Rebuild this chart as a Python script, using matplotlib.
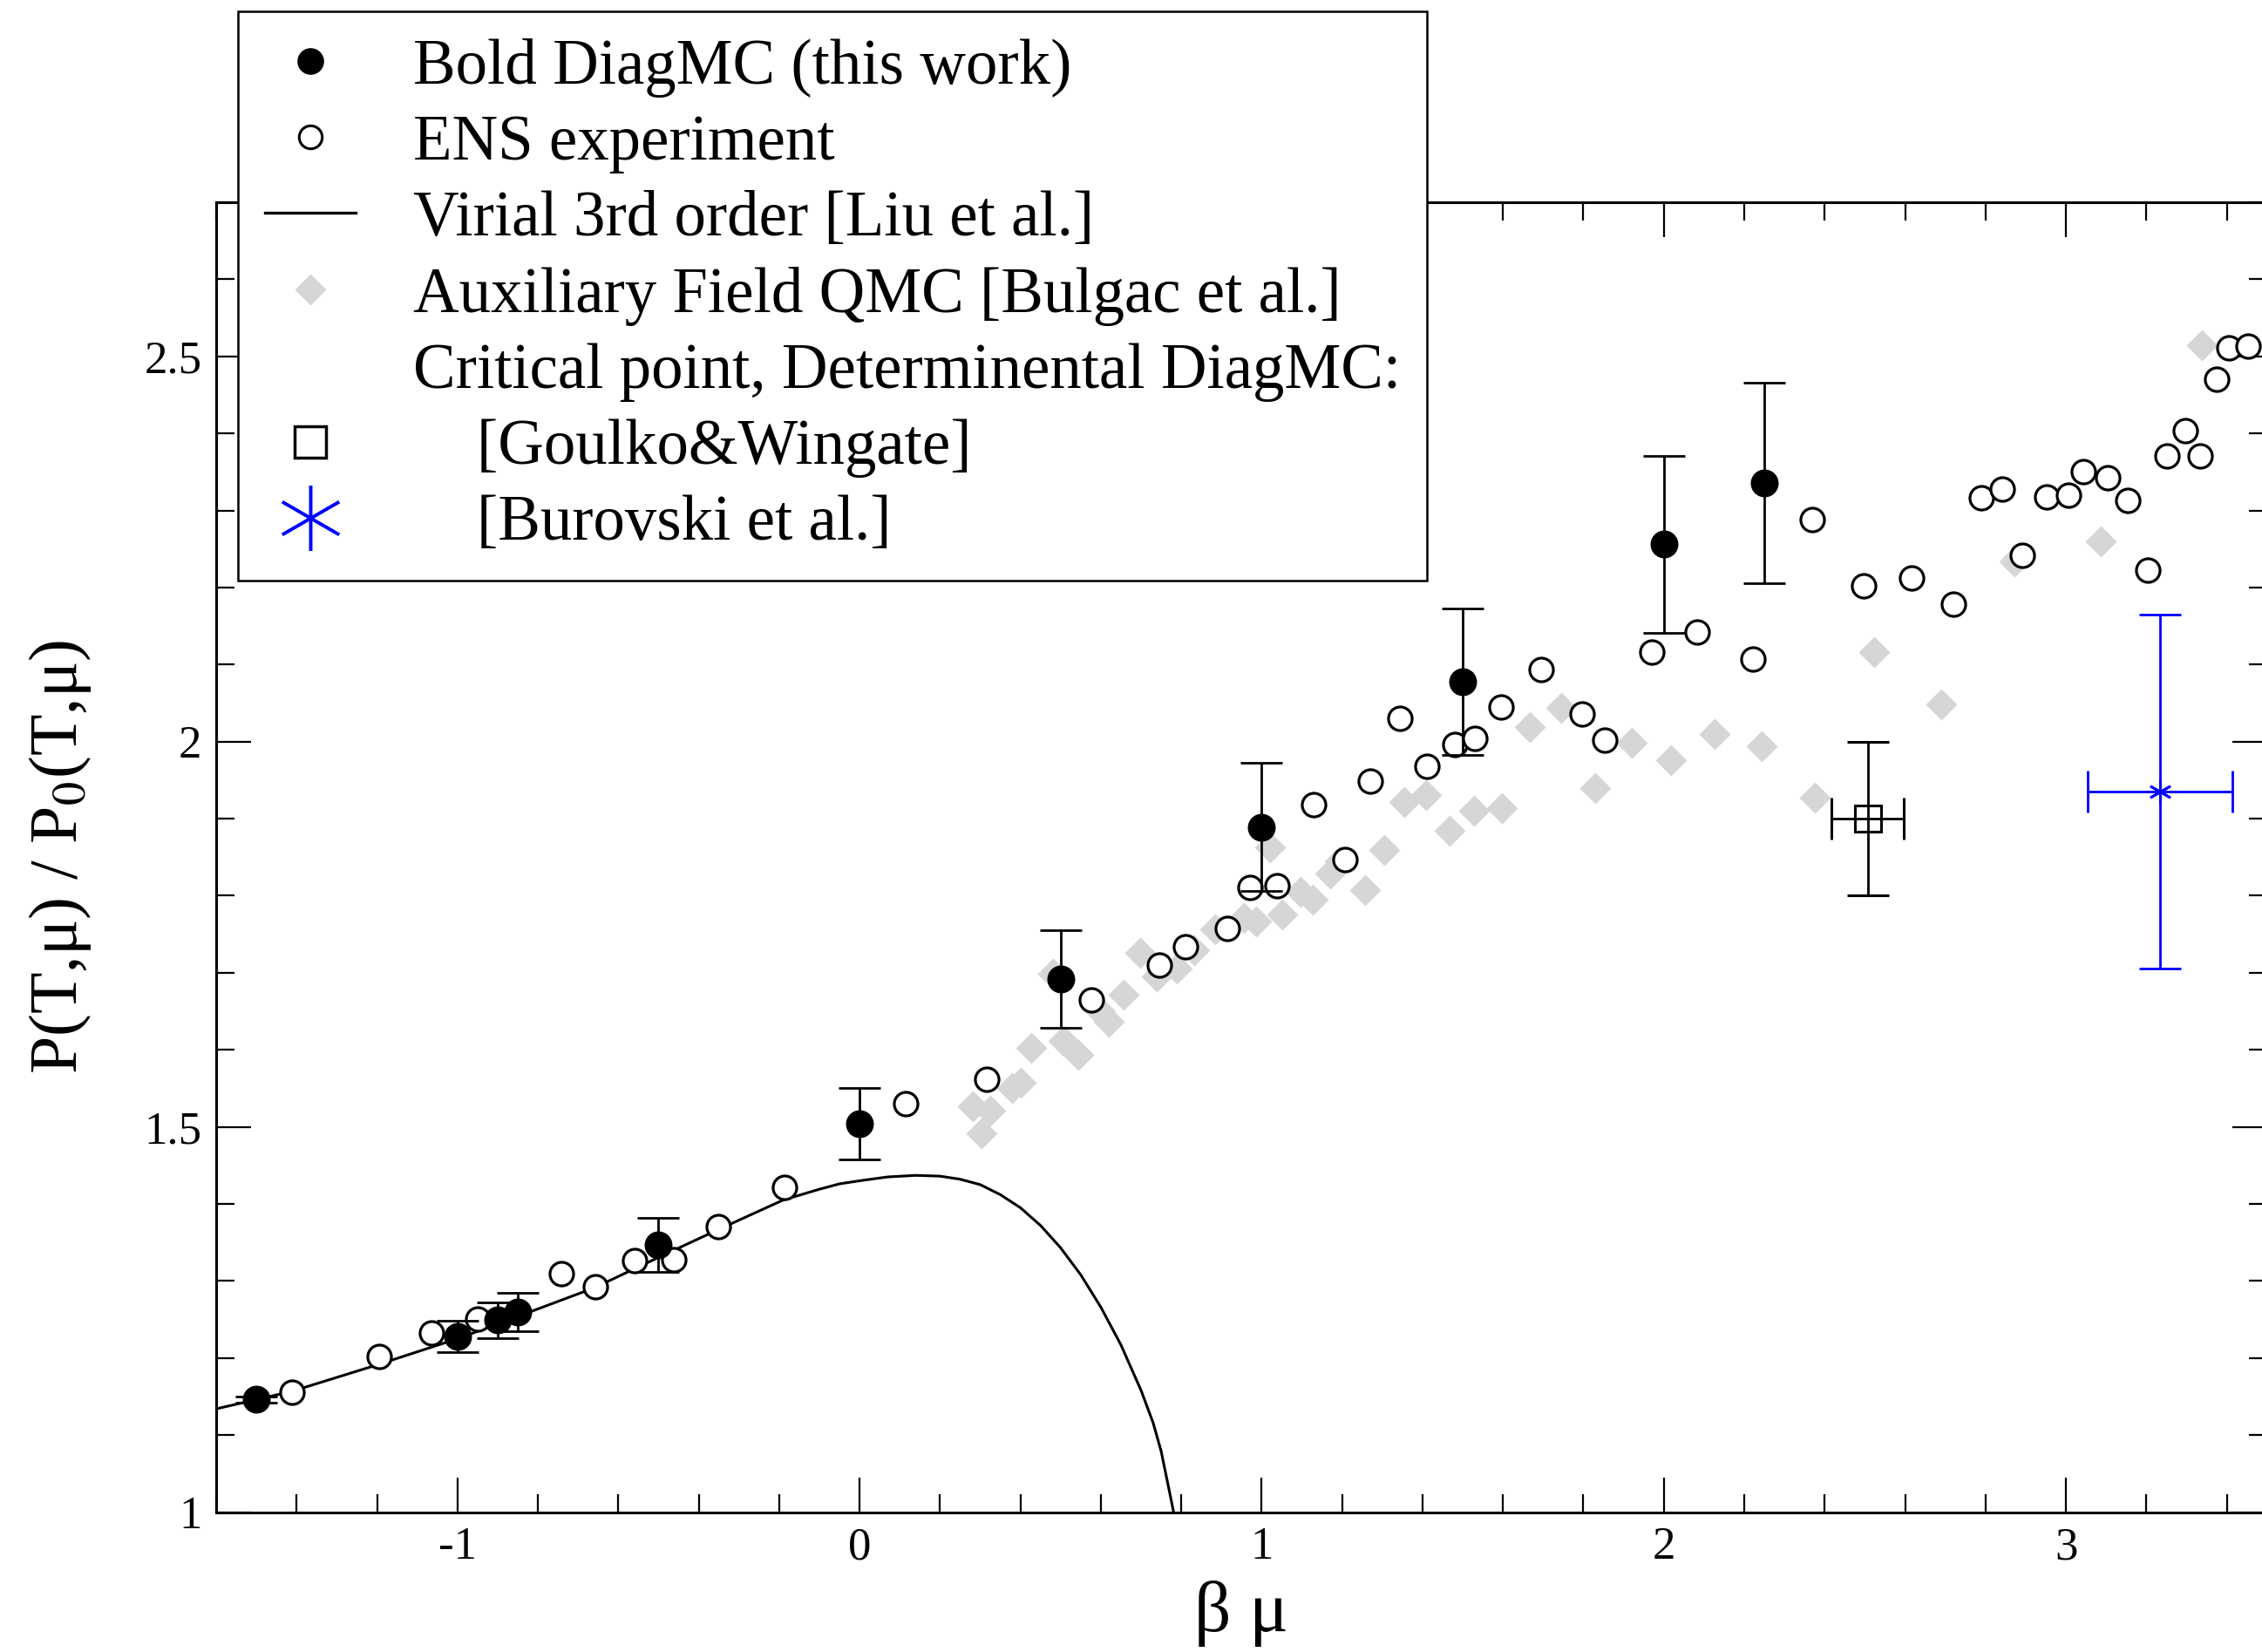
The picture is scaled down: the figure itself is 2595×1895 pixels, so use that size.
import numpy as np
import matplotlib
matplotlib.use("Agg")
import matplotlib.pyplot as plt
from matplotlib.lines import Line2D
from matplotlib.ticker import MultipleLocator, FuncFormatter

plt.rcParams['font.family'] = ['Liberation Serif', 'DejaVu Serif']
plt.rcParams['mathtext.fontset'] = 'stix'
plt.rcParams['axes.unicode_minus'] = False

# ---- Bold DiagMC (this work) ----
bold_x = [-1.5, -1.0, -0.9, -0.85, -0.5, 0.0, 0.5, 1.0, 1.5, 2.0, 2.25]
bold_y = [1.146, 1.228, 1.249, 1.260, 1.347, 1.504, 1.692, 1.889, 2.078, 2.256, 2.336]
bold_err = [0.004, 0.02, 0.023, 0.025, 0.035, 0.046, 0.063, 0.083, 0.095, 0.115, 0.13]

# ---- ENS experiment ----
ens_x = [-1.412, -1.194, -1.065, -0.95, -0.742, -0.656, -0.559, -0.462, -0.351, -0.186,
         0.115, 0.317, 0.577, 0.746, 0.810, 0.914, 0.971, 1.039, 1.129, 1.207,
         1.269, 1.344, 1.412, 1.480, 1.530, 1.595, 1.695, 1.796, 1.853, 1.971,
         2.082, 2.222, 2.369, 2.498, 2.616, 2.720, 2.789, 2.842, 2.892, 2.953,
         3.007, 3.043, 3.104, 3.154, 3.204, 3.251, 3.297, 3.333, 3.376, 3.405, 3.452]
ens_y = [1.156, 1.202, 1.232, 1.251, 1.309, 1.292, 1.326, 1.328, 1.371, 1.421,
         1.530, 1.562, 1.665, 1.710, 1.734, 1.757, 1.811, 1.813, 1.918, 1.847,
         1.949, 2.030, 1.968, 1.996, 2.004, 2.045, 2.094, 2.036, 2.002, 2.116,
         2.142, 2.107, 2.288, 2.202, 2.212, 2.178, 2.316, 2.328, 2.242, 2.318,
         2.320, 2.350, 2.343, 2.313, 2.223, 2.371, 2.404, 2.371, 2.470, 2.511, 2.513]

# ---- Virial 3rd order [Liu et al.] ----
vir_x = [-1.60, -1.50, -1.41, -1.20, -1.00, -0.88, -0.66, -0.49, -0.35, -0.19,
         -0.10, -0.05, 0.00, 0.07, 0.14, 0.20, 0.25, 0.30, 0.35, 0.40,
         0.45, 0.50, 0.55, 0.60, 0.65, 0.70, 0.73, 0.75, 0.765, 0.781]
vir_y = [1.134, 1.146, 1.157, 1.191, 1.225, 1.248, 1.291, 1.333, 1.367, 1.405,
         1.419, 1.426, 1.430, 1.435, 1.437, 1.436, 1.432, 1.425, 1.412, 1.395,
         1.372, 1.343, 1.308, 1.266, 1.217, 1.158, 1.116, 1.079, 1.041, 1.000]

# ---- Auxiliary Field QMC [Bulgac et al.] ----
qmc_x = [0.281, 0.304, 0.324, 0.379, 0.400, 0.427, 0.481, 0.507, 0.543, 0.599,
         0.620, 0.656, 0.697, 0.738, 0.788, 0.832, 0.885, 0.955, 0.987, 1.020,
         1.052, 1.097, 1.128, 1.171, 1.195, 1.258, 1.305, 1.355, 1.409, 1.467,
         1.529, 1.597, 1.667, 1.745, 1.830, 1.921, 2.018, 2.127, 2.244, 2.376,
         2.524, 2.689, 2.873, 3.086, 3.337]
qmc_y = [1.527, 1.492, 1.521, 1.551, 1.557, 1.603, 1.699, 1.612, 1.593, 1.650,
         1.637, 1.671, 1.726, 1.695, 1.705, 1.729, 1.756, 1.771, 1.766, 1.863,
         1.776, 1.805, 1.795, 1.829, 1.845, 1.807, 1.859, 1.922, 1.931, 1.884,
         1.910, 1.914, 2.019, 2.044, 1.940, 1.999, 1.976, 2.010, 1.994, 1.927,
         2.116, 2.048, 2.234, 2.260, 2.515]

# ---- Critical points ----
gw_x, gw_y, gw_xerr, gw_yerr = 2.507, 1.90, 0.09, 0.10
bur_x, bur_y, bur_xerr, bur_yerr = 3.235, 1.935, 0.18, 0.23

grey = '#d6d6d6'

fig = plt.figure(figsize=(25.95, 18.95), dpi=100)
ax = fig.add_axes([248 / 2595, 1 - 1734.5 / 1895, (2600.7 - 248) / 2595, (1734.5 - 232) / 1895])

ax.plot(qmc_x, qmc_y, ls='none', marker='D', ms=18, color=grey, mec='none', zorder=2)
ax.plot(vir_x, vir_y, color='k', lw=2.2, zorder=3)
ax.plot(ens_x, ens_y, ls='none', marker='o', ms=19.5, mfc='white', mec='k', mew=2.3, zorder=4)
ax.errorbar(bold_x, bold_y, yerr=bold_err, fmt='o', ms=22, color='k', ecolor='k',
            elinewidth=2, capsize=17, capthick=2, zorder=5)
ax.errorbar([gw_x], [gw_y], xerr=[gw_xerr], yerr=[gw_yerr], fmt='s', ms=21, mfc='none',
            mec='k', mew=2.2, ecolor='k', elinewidth=2, capsize=17, capthick=2, zorder=5)
ax.errorbar([bur_x], [bur_y], xerr=[bur_xerr], yerr=[bur_yerr], fmt='none',
            ecolor='blue', elinewidth=2, capsize=17, capthick=2, zorder=5)
ax.plot([bur_x], [bur_y], ls='none', marker=(6, 2, 0), ms=19, color='blue', mew=2, zorder=6)

ax.set_xlim(-1.6, 3.5)
ax.set_ylim(1.0, 2.7)
ax.xaxis.set_major_locator(MultipleLocator(1))
ax.xaxis.set_minor_locator(MultipleLocator(0.2))
ax.yaxis.set_major_locator(MultipleLocator(0.5))
ax.yaxis.set_minor_locator(MultipleLocator(0.1))
ax.yaxis.set_major_formatter(FuncFormatter(lambda v, p: '%g' % v))
ax.xaxis.set_major_formatter(FuncFormatter(lambda v, p: '%g' % v))
ax.tick_params(which='both', direction='in', top=True, right=True, labelsize=38)
ax.tick_params(which='major', length=29, width=1.6, pad=12)
ax.tick_params(which='minor', length=15, width=1.6)
for s in ax.spines.values():
    s.set_linewidth(2.2)

ax.set_xlabel('β μ', fontsize=60, labelpad=10)
ax.set_ylabel('P(T,μ) / P$_0$(T,μ)', fontsize=56, labelpad=42)

handles = [
    Line2D([], [], ls='none', marker='o', ms=21, color='k'),
    Line2D([], [], ls='none', marker='o', ms=19, mfc='white', mec='k', mew=2.2),
    Line2D([], [], color='k', lw=2.4),
    Line2D([], [], ls='none', marker='D', ms=17, color=grey),
    Line2D([], [], ls='none'),
    Line2D([], [], ls='none', marker='s', ms=26, mfc='none', mec='k', mew=2.5),
    Line2D([], [], ls='none', marker=(6, 2, 0), ms=54, color='blue', mew=2.5),
]
labels = [
    'Bold DiagMC (this work)',
    'ENS experiment',
    'Virial 3rd order [Liu et al.]',
    'Auxiliary Field QMC [Bulgac et al.]',
    'Critical point, Determinental DiagMC:',
    '    [Goulko&Wingate]',
    '    [Burovski et al.]',
]
leg = ax.legend(handles, labels, loc='upper left',
                bbox_to_anchor=(273 / 2595, 1 - 13 / 1895), bbox_transform=fig.transFigure,
                borderaxespad=0, fontsize=52.5, frameon=True, fancybox=False,
                handlelength=1.43, handletextpad=0.9, borderpad=0.42, labelspacing=0.27)
leg.get_frame().set_edgecolor('k')
leg.get_frame().set_linewidth(1.8)
leg.get_frame().set_alpha(1)

fig.savefig('out.png', dpi=100)
